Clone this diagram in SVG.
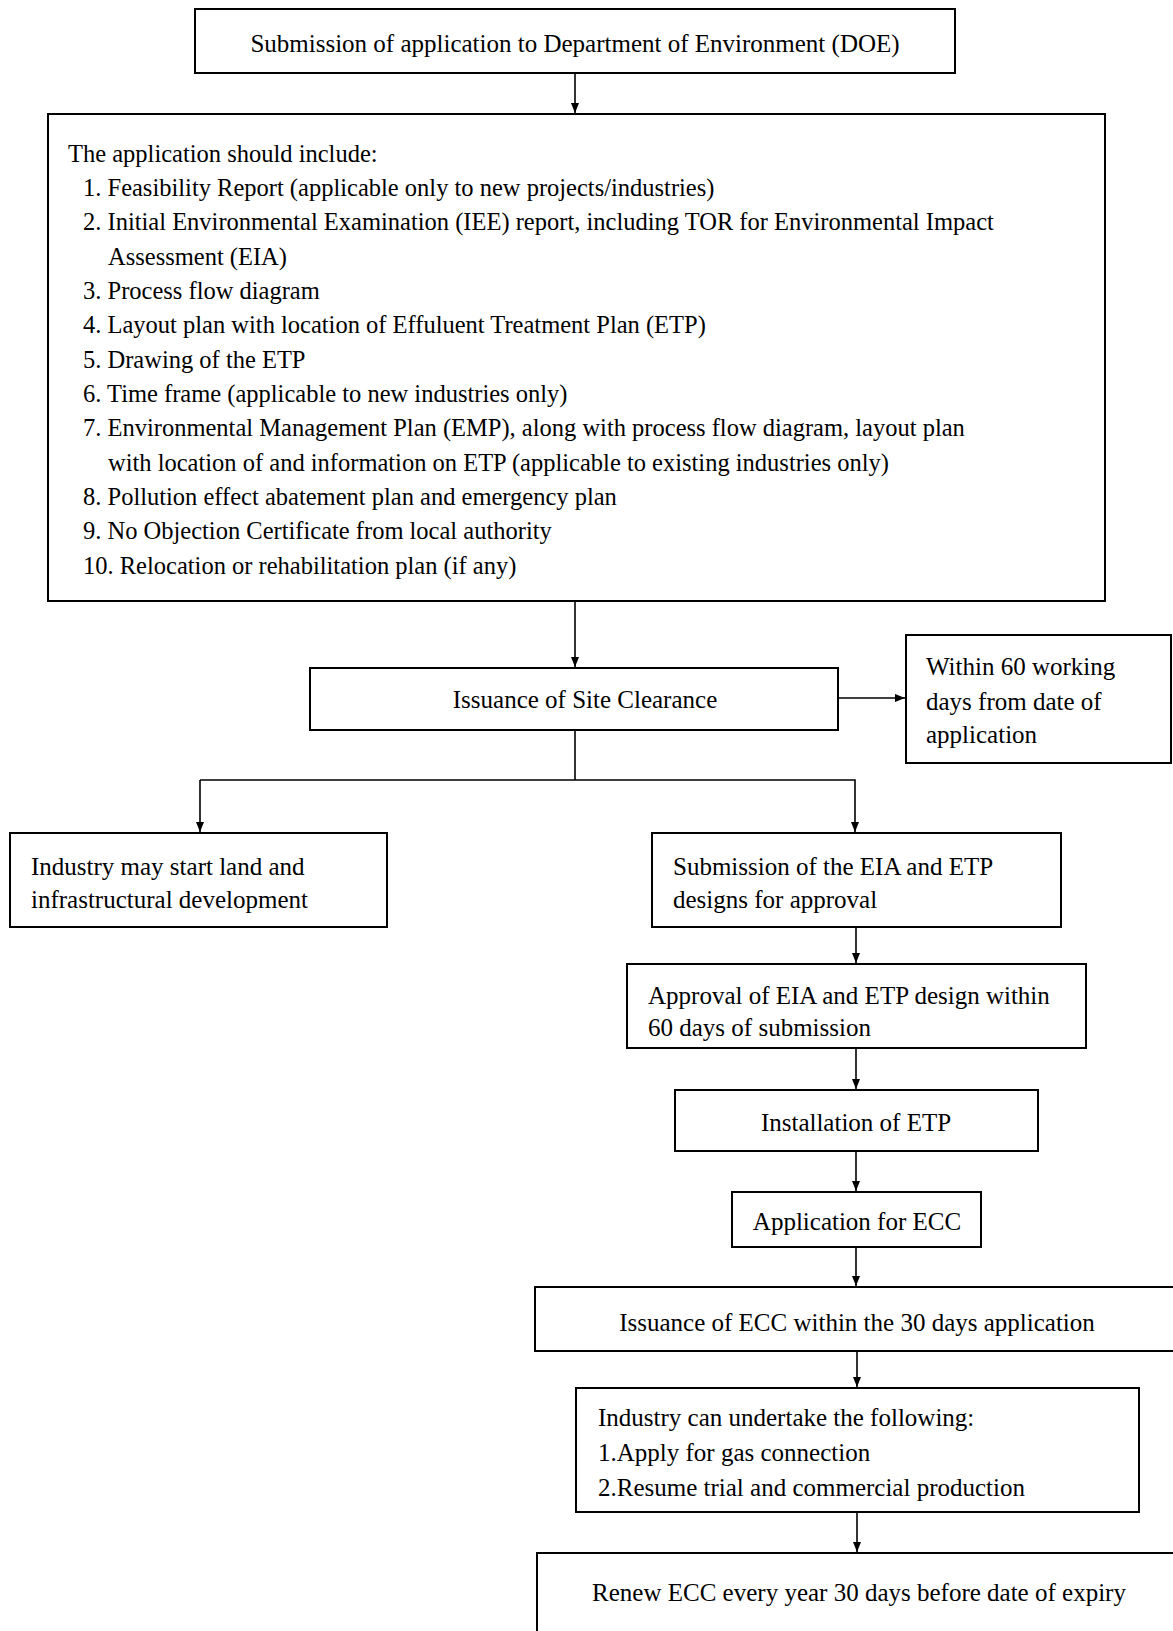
<svg xmlns="http://www.w3.org/2000/svg" width="1173" height="1631" viewBox="0 0 1173 1631">
<style>
  .box { fill: #ffffff; stroke: #000000; stroke-width: 2; }
  .t { font-family: "Liberation Serif", "Times New Roman", serif; font-size: 25px; fill: #000000; }
  .l { font-family: "Liberation Serif", "Times New Roman", serif; font-size: 24.5px; fill: #000000; }
  .c { text-anchor: middle; }
  .conn { fill: none; stroke: #000000; stroke-width: 1.6; }
</style>
<defs>
  <marker id="arr" markerUnits="userSpaceOnUse" markerWidth="10" markerHeight="10" viewBox="0 0 10 10" refX="10" refY="5" orient="auto">
    <path d="M0,1 L10,5 L0,9 Z" fill="#000000"/>
  </marker>
</defs>
<rect width="1173" height="1631" fill="#ffffff"/>

<g id="connectors">
  <line class="conn" x1="575" y1="73" x2="575" y2="113" marker-end="url(#arr)"/>
  <line class="conn" x1="575" y1="601" x2="575" y2="667" marker-end="url(#arr)"/>
  <line class="conn" x1="838" y1="698" x2="905" y2="698" marker-end="url(#arr)"/>
  <polyline class="conn" points="575,730 575,780"/>
  <polyline class="conn" points="200,780 855,780 855,832" marker-end="url(#arr)"/>
  <line class="conn" x1="200" y1="780" x2="200" y2="832" marker-end="url(#arr)"/>
  <line class="conn" x1="856" y1="927" x2="856" y2="963" marker-end="url(#arr)"/>
  <line class="conn" x1="856" y1="1048" x2="856" y2="1089" marker-end="url(#arr)"/>
  <line class="conn" x1="856" y1="1151" x2="856" y2="1191" marker-end="url(#arr)"/>
  <line class="conn" x1="856" y1="1247" x2="856" y2="1286" marker-end="url(#arr)"/>
  <line class="conn" x1="857" y1="1351" x2="857" y2="1387" marker-end="url(#arr)"/>
  <line class="conn" x1="857" y1="1512" x2="857" y2="1552" marker-end="url(#arr)"/>
</g>

<g id="n-submission">
  <rect class="box" x="195" y="9" width="760" height="64"/>
  <text class="t c" x="575" y="52">Submission of application to Department of Environment (DOE)</text>
</g>

<g id="n-application-list">
  <rect class="box" x="48" y="114" width="1057" height="487"/>
  <text class="l" x="68" y="162">The application should include:</text>
  <text class="l" x="83" y="196">1. Feasibility Report (applicable only to new projects/industries)</text>
  <text class="l" x="83" y="230">2. Initial Environmental Examination (IEE) report, including TOR for Environmental Impact</text>
  <text class="l" x="108" y="265">Assessment (EIA)</text>
  <text class="l" x="83" y="299">3. Process flow diagram</text>
  <text class="l" x="83" y="333">4. Layout plan with location of  Effuluent Treatment Plan (ETP)</text>
  <text class="l" x="83" y="368">5. Drawing of the ETP</text>
  <text class="l" x="83" y="402">6. Time frame (applicable to new industries only)</text>
  <text class="l" x="83" y="436">7. Environmental Management Plan (EMP), along with process flow diagram, layout plan</text>
  <text class="l" x="108" y="471">with location of and information on ETP (applicable to existing industries only)</text>
  <text class="l" x="83" y="505">8. Pollution effect abatement plan and emergency plan</text>
  <text class="l" x="83" y="539">9. No Objection Certificate from local authority</text>
  <text class="l" x="83" y="574">10. Relocation or rehabilitation plan (if any)</text>
</g>

<g id="n-site-clearance">
  <rect class="box" x="310" y="668" width="528" height="62"/>
  <text class="t c" x="585" y="708">Issuance of Site Clearance</text>
</g>

<g id="n-within-60">
  <rect class="box" x="906" y="635" width="265" height="128"/>
  <text class="t" x="926" y="675">Within 60 working</text>
  <text class="t" x="926" y="710">days from date of</text>
  <text class="t" x="926" y="743">application</text>
</g>

<g id="n-industry-land">
  <rect class="box" x="10" y="833" width="377" height="94"/>
  <text class="t" x="31" y="875">Industry may start land and</text>
  <text class="t" x="31" y="908">infrastructural development</text>
</g>

<g id="n-submission-eia">
  <rect class="box" x="652" y="833" width="409" height="94"/>
  <text class="t" x="673" y="875">Submission of the EIA and ETP</text>
  <text class="t" x="673" y="908">designs for approval</text>
</g>

<g id="n-approval">
  <rect class="box" x="627" y="964" width="459" height="84"/>
  <text class="t" x="648" y="1004">Approval of EIA and ETP design within</text>
  <text class="t" x="648" y="1036">60 days of submission</text>
</g>

<g id="n-installation">
  <rect class="box" x="675" y="1090" width="363" height="61"/>
  <text class="t c" x="856" y="1131">Installation of ETP</text>
</g>

<g id="n-application-ecc">
  <rect class="box" x="732" y="1192" width="249" height="55"/>
  <text class="t c" x="857" y="1230">Application for ECC</text>
</g>

<g id="n-issuance-ecc">
  <rect class="box" x="535" y="1287" width="650" height="64"/>
  <text class="t c" x="857" y="1331">Issuance of ECC within the 30 days application</text>
</g>

<g id="n-industry-can">
  <rect class="box" x="576" y="1388" width="563" height="124"/>
  <text class="t" x="598" y="1426">Industry can undertake the following:</text>
  <text class="t" x="598" y="1461">1.Apply for gas connection</text>
  <text class="t" x="598" y="1496">2.Resume trial and commercial production</text>
</g>

<g id="n-renew">
  <rect class="box" x="537" y="1553" width="650" height="90"/>
  <text class="t c" x="859" y="1601">Renew ECC every year 30 days before date of expiry</text>
</g>
</svg>
